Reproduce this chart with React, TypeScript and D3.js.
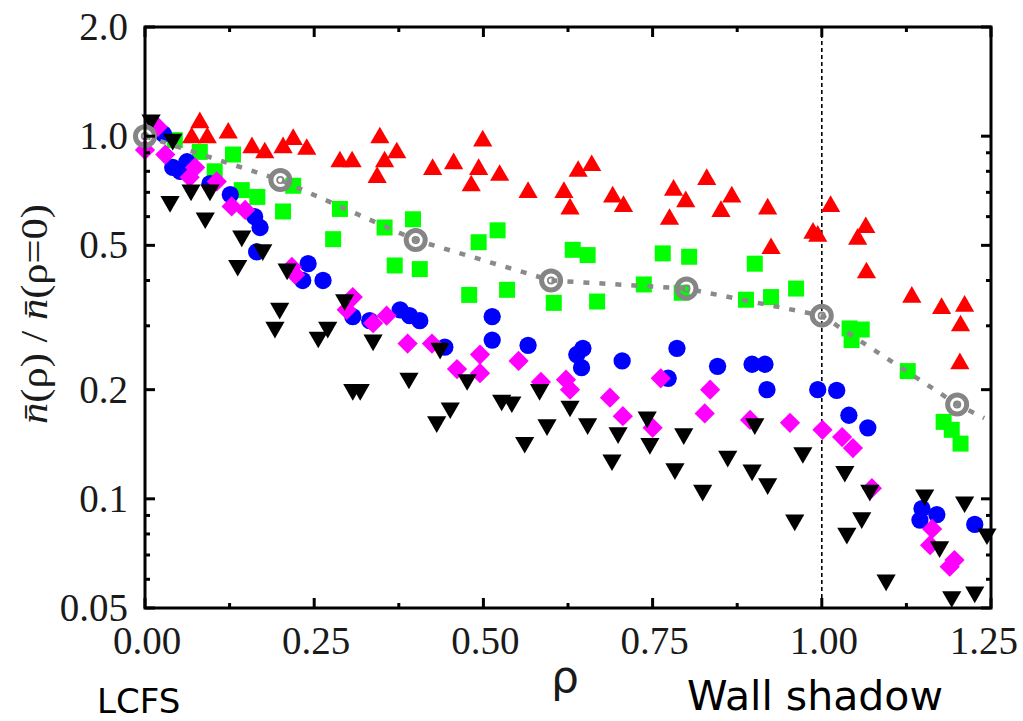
import React from 'react';
import * as d3 from 'd3';

// Normalised density profile n(ρ)/n(ρ=0) versus ρ, log scale in y.
const xTicks = [0, 0.25, 0.5, 0.75, 1.0, 1.25];
const xTickLabels = ['0.00', '0.25', '0.50', '0.75', '1.00', '1.25'];
const xMinorTicks = [0.125, 0.375, 0.625, 0.875, 1.125];
const yTicks = [2.0, 1.0, 0.5, 0.2, 0.1, 0.05];
const yTickLabels = ['2.0', '1.0', '0.5', '0.2', '0.1', '0.05'];
const yMinorTicks = [0.9, 0.8, 0.7, 0.6, 0.4, 0.3, 0.09, 0.08, 0.07, 0.06];

const wallShadowRho = 1.0;

// [ρ, n(ρ)/n(0)]
const redUp: [number, number][] = [
  [0.081, 1.09], [0.069, 0.99], [0.092, 0.99], [0.123, 1.02], [0.158, 0.93], [0.177, 0.90],
  [0.204, 0.93], [0.219, 0.98], [0.239, 0.92], [0.288, 0.85], [0.306, 0.85], [0.347, 0.99],
  [0.354, 0.85], [0.372, 0.90], [0.343, 0.77], [0.425, 0.81], [0.456, 0.84], [0.499, 0.97],
  [0.493, 0.81], [0.524, 0.78], [0.482, 0.73], [0.566, 0.70], [0.619, 0.70], [0.628, 0.63],
  [0.64, 0.80], [0.66, 0.83], [0.691, 0.68], [0.707, 0.64], [0.781, 0.71], [0.799, 0.66],
  [0.775, 0.59], [0.83, 0.76], [0.867, 0.68], [0.851, 0.62], [0.92, 0.63], [0.925, 0.49],
  [0.987, 0.54], [0.994, 0.53], [1.013, 0.64], [1.065, 0.56], [1.053, 0.52], [1.066, 0.42],
  [1.133, 0.36], [1.177, 0.335], [1.211, 0.34], [1.205, 0.30], [1.204, 0.236],
];

const greenSquares: [number, number][] = [
  [0.044, 0.975], [0.081, 0.905], [0.13, 0.89], [0.103, 0.80], [0.143, 0.71], [0.166, 0.68],
  [0.204, 0.62], [0.219, 0.73], [0.288, 0.63], [0.278, 0.52], [0.354, 0.56], [0.396, 0.59],
  [0.369, 0.44], [0.406, 0.43], [0.493, 0.51], [0.521, 0.55], [0.479, 0.365], [0.535, 0.377],
  [0.632, 0.486], [0.654, 0.47], [0.604, 0.347], [0.668, 0.35], [0.737, 0.39], [0.765, 0.475],
  [0.804, 0.465], [0.793, 0.37], [0.901, 0.445], [0.888, 0.354], [0.925, 0.36], [0.962, 0.38],
  [1.041, 0.295], [1.059, 0.293], [1.044, 0.274], [1.127, 0.225], [1.18, 0.163], [1.192, 0.155],
  [1.205, 0.142],
];

const blueCircles: [number, number][] = [
  [0.027, 1.015], [0.041, 0.82], [0.062, 0.85], [0.052, 0.80], [0.096, 0.74], [0.126, 0.69],
  [0.162, 0.60], [0.170, 0.56], [0.165, 0.48], [0.241, 0.445], [0.233, 0.40], [0.263, 0.40],
  [0.307, 0.318], [0.332, 0.31], [0.377, 0.332], [0.391, 0.32], [0.406, 0.31], [0.443, 0.262],
  [0.513, 0.318], [0.513, 0.274], [0.566, 0.265], [0.638, 0.25], [0.647, 0.26], [0.645, 0.23],
  [0.705, 0.24], [0.786, 0.26], [0.773, 0.215], [0.846, 0.232], [0.897, 0.235], [0.916, 0.235],
  [0.919, 0.20], [0.994, 0.20], [1.022, 0.199], [1.04, 0.17], [1.068, 0.157], [1.148, 0.094],
  [1.17, 0.0905], [1.145, 0.0874], [1.226, 0.085],
];

const magentaDiamonds: [number, number][] = [
  [0.019, 1.06], [0.0, 0.916], [0.03, 0.89], [0.074, 0.82], [0.066, 0.77], [0.106, 0.75],
  [0.128, 0.64], [0.148, 0.626], [0.217, 0.436], [0.222, 0.415], [0.307, 0.36], [0.298, 0.332],
  [0.337, 0.305], [0.357, 0.32], [0.388, 0.268], [0.424, 0.268], [0.461, 0.228], [0.495, 0.25],
  [0.495, 0.222], [0.552, 0.24], [0.585, 0.21], [0.622, 0.213], [0.628, 0.20], [0.687, 0.19],
  [0.706, 0.169], [0.75, 0.157], [0.762, 0.215], [0.835, 0.20], [0.827, 0.172], [0.894, 0.165],
  [0.953, 0.162], [1.001, 0.155], [1.03, 0.148], [1.046, 0.138], [1.074, 0.107], [1.163, 0.0826],
  [1.16, 0.0745], [1.196, 0.0678], [1.189, 0.065],
];

const blackDown: [number, number][] = [
  [0.009, 1.108], [0.041, 0.98], [0.037, 0.66], [0.068, 0.71], [0.096, 0.71], [0.089, 0.595],
  [0.143, 0.53], [0.174, 0.486], [0.137, 0.44], [0.21, 0.43], [0.199, 0.335], [0.192, 0.297],
  [0.256, 0.279], [0.27, 0.297], [0.295, 0.354], [0.337, 0.274], [0.307, 0.20], [0.318, 0.20],
  [0.39, 0.215], [0.436, 0.26], [0.476, 0.213], [0.451, 0.178], [0.431, 0.163], [0.527, 0.187],
  [0.542, 0.185], [0.561, 0.143], [0.583, 0.20], [0.594, 0.16], [0.628, 0.18], [0.654, 0.161],
  [0.699, 0.152], [0.69, 0.128], [0.742, 0.168], [0.746, 0.142], [0.783, 0.121], [0.796, 0.151],
  [0.824, 0.1055], [0.861, 0.131], [0.897, 0.12], [0.901, 0.161], [0.92, 0.11], [0.96, 0.0874],
  [0.972, 0.134], [1.034, 0.119], [1.059, 0.0886], [1.037, 0.0803], [1.071, 0.1055], [1.095, 0.0597],
  [1.152, 0.1025], [1.174, 0.0737], [1.192, 0.0537], [1.211, 0.098], [1.226, 0.0553], [1.244, 0.080],
];

// Averaged profile (grey open circles) and its dotted trend line.
const grayAverage: [number, number][] = [
  [0.0, 1.0], [0.2, 0.757], [0.4, 0.517], [0.6, 0.40], [0.8, 0.38], [1.0, 0.32], [1.2, 0.182],
];
const grayTrend: [number, number][] = [...grayAverage, [1.24, 0.167]];

const W = 1023;
const H = 721;
const left = 145;
const right = 991;
const top = 27;
const bottom = 608;

const x = d3.scaleLinear().domain([0, 1.25]).range([left, right]);
const y = d3.scaleLog().domain([0.05, 2.0]).range([bottom, top]);

const serif = '"Liberation Serif", "Times New Roman", serif';
const sans = '"DejaVu Sans", Verdana, sans-serif';

const circlePath = d3.symbol(d3.symbolCircle, 235)()!;
const squarePath = d3.symbol(d3.symbolSquare, 256)()!;
const diamondPath = d3.symbol(d3.symbolSquare, 205)()!;
const triPath = d3.symbol(d3.symbolTriangle, 160)()!;

function Markers({ data, path, fill, rotate = 0 }: { data: [number, number][]; path: string; fill: string; rotate?: number }) {
  return (
    <g fill={fill}>
      {data.map(([r, v], i) => (
        <path key={i} d={path} transform={`translate(${x(r)},${y(v)}) rotate(${rotate})`} />
      ))}
    </g>
  );
}

export default function App() {
  const line = d3
    .line<[number, number]>()
    .x((d) => x(d[0]))
    .y((d) => y(d[1]));

  const majorLen = 10;
  const minorLen = 5;

  return (
    <svg
      width={W}
      height={H}
      viewBox={`0 0 ${W} ${H}`}
      style={{ position: 'absolute', left: 0, top: 0, background: '#fff' }}
    >
      <rect x={0} y={0} width={W} height={H} fill="#fff" />

      {/* wall shadow boundary */}
      <line
        x1={x(wallShadowRho)}
        x2={x(wallShadowRho)}
        y1={top}
        y2={bottom}
        stroke="#000"
        strokeWidth={1.6}
        strokeDasharray="4 3"
      />

      <Markers data={greenSquares} path={squarePath} fill="#00ff00" />
      <Markers data={redUp} path={triPath} fill="#ff0000" />
      <Markers data={blueCircles} path={circlePath} fill="#0000ff" />
      <Markers data={magentaDiamonds} path={diamondPath} fill="#ff00ff" rotate={45} />
      <Markers data={blackDown} path={triPath} fill="#000000" rotate={180} />

      <path
        d={line(grayTrend) ?? ''}
        fill="none"
        stroke="#8a8a8a"
        strokeWidth={4.5}
        strokeDasharray="6 10"
      />
      <g fill="none" stroke="#858585">
        {grayAverage.map(([r, v], i) => (
          <g key={i} transform={`translate(${x(r)},${y(v)})`}>
            <circle r={9.5} strokeWidth={5} />
            <circle r={3.2} strokeWidth={1.8} />
          </g>
        ))}
      </g>

      {/* frame */}
      <rect
        x={left}
        y={top}
        width={right - left}
        height={bottom - top}
        fill="none"
        stroke="#000"
        strokeWidth={3}
      />

      {/* ticks on all four sides, pointing inward */}
      <g stroke="#000" strokeWidth={3}>
        {xTicks.map((t, i) => (
          <g key={`xm${i}`}>
            <line x1={x(t)} x2={x(t)} y1={bottom} y2={bottom - majorLen} />
            <line x1={x(t)} x2={x(t)} y1={top} y2={top + majorLen} />
          </g>
        ))}
        {xMinorTicks.map((t, i) => (
          <g key={`xn${i}`}>
            <line x1={x(t)} x2={x(t)} y1={bottom} y2={bottom - minorLen} />
            <line x1={x(t)} x2={x(t)} y1={top} y2={top + minorLen} />
          </g>
        ))}
        {yTicks.map((t, i) => (
          <g key={`ym${i}`}>
            <line x1={left} x2={left + majorLen} y1={y(t)} y2={y(t)} />
            <line x1={right} x2={right - majorLen} y1={y(t)} y2={y(t)} />
          </g>
        ))}
        {yMinorTicks.map((t, i) => (
          <g key={`yn${i}`}>
            <line x1={left} x2={left + minorLen} y1={y(t)} y2={y(t)} />
            <line x1={right} x2={right - minorLen} y1={y(t)} y2={y(t)} />
          </g>
        ))}
      </g>

      {/* tick labels */}
      <g fontFamily={serif} fontSize={39} fill="#1a1a1a">
        {xTicks.map((t, i) => {
          const last = i === xTicks.length - 1;
          return (
            <text
              key={`xl${i}`}
              x={last ? 1018 : x(t) + 2}
              y={654}
              textAnchor={last ? 'end' : 'middle'}
            >
              {xTickLabels[i]}
            </text>
          );
        })}
        {yTicks.map((t, i) => (
          <text key={`yl${i}`} x={128} y={y(t) + 13} textAnchor="end">
            {yTickLabels[i]}
          </text>
        ))}
      </g>

      {/* axis titles */}
      <text
        x={565}
        y={692}
        textAnchor="middle"
        fill="#1a1a1a"
        style={{ fontFamily: 'DejaVu Sans, sans-serif', fontSize: '44px' }}
      >
        ρ
      </text>
      <text
        transform="translate(47,314) rotate(-90)"
        textAnchor="middle"
        fontFamily={serif}
        fontSize={38}
        fill="#1a1a1a"
        textLength={220}
        lengthAdjust="spacingAndGlyphs"
      >
        <tspan fontStyle="italic">{'n\u0304'}</tspan>
        <tspan>(ρ) / </tspan>
        <tspan fontStyle="italic">{'n\u0304'}</tspan>
        <tspan>(ρ=0)</tspan>
      </text>

      <text x={97} y={713} fontFamily={sans} fontSize={34} fill="#000">
        LCFS
      </text>
      <text x={687} y={710} fontFamily={sans} fontSize={41} fill="#000">
        Wall shadow
      </text>
    </svg>
  );
}
